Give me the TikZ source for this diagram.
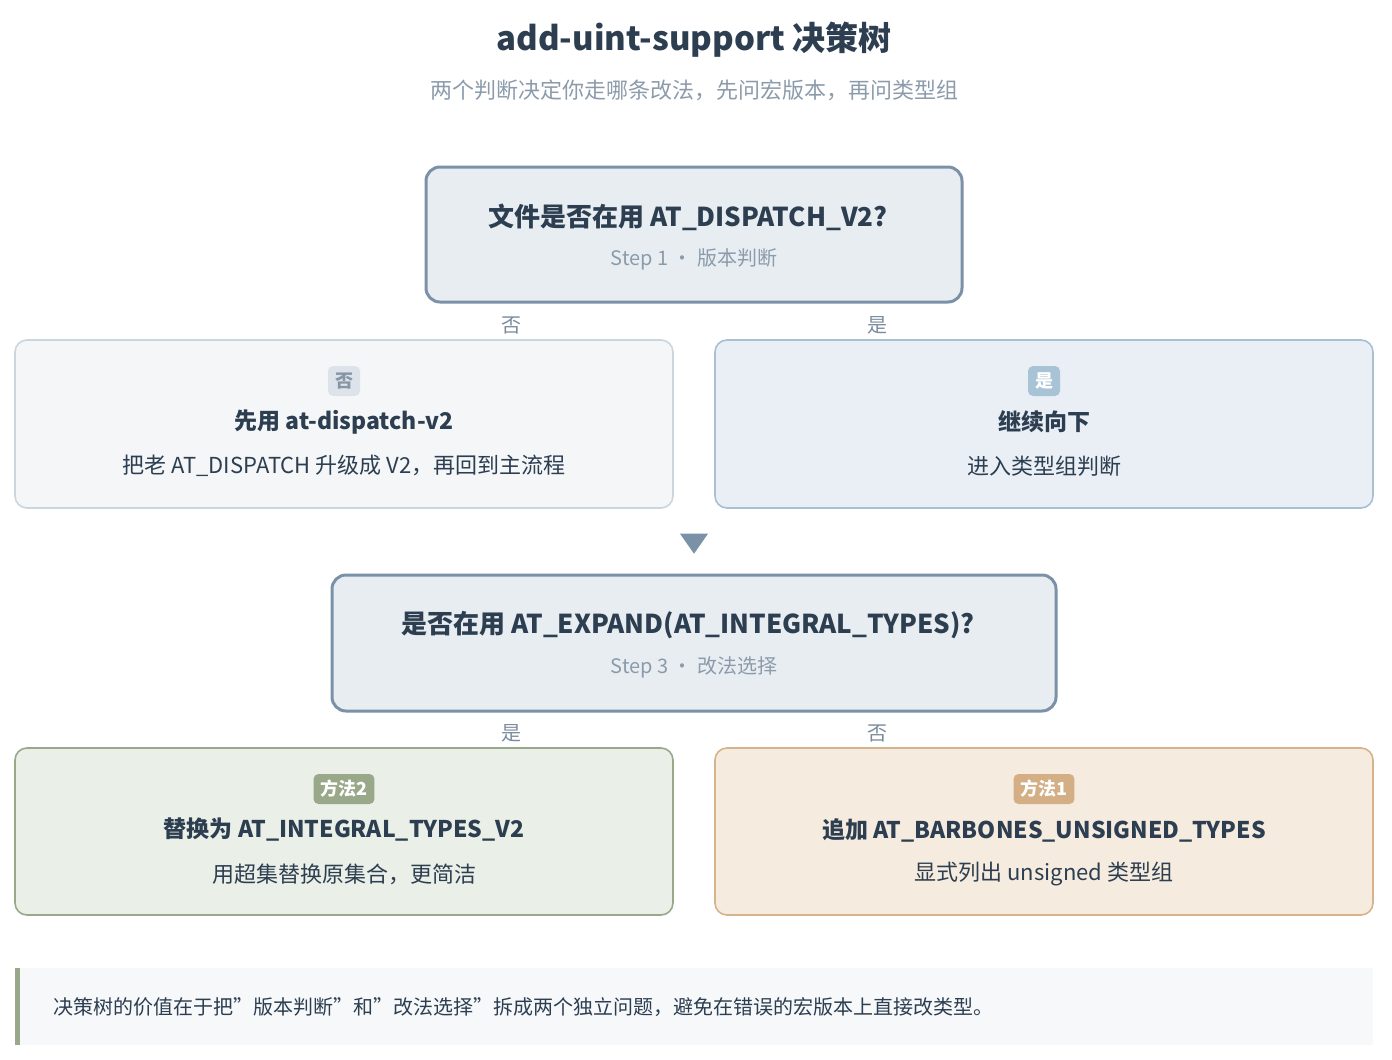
\documentclass[tikz,border=0pt]{standalone}
\usepackage{fontspec}
\setmainfont{Noto Sans CJK SC}
\usetikzlibrary{shapes.geometric}
\definecolor{ink}{HTML}{2C3E50}
\definecolor{muted}{HTML}{8C9BAB}
\definecolor{lbl}{HTML}{7A8B9C}
\definecolor{dec}{HTML}{7A91A8}
\definecolor{decfill}{HTML}{E8EDF2}
\definecolor{nobd}{HTML}{C9D6E0}
\definecolor{nofill}{HTML}{F4F6F8}
\definecolor{nobadge}{HTML}{DDE3EA}
\definecolor{notext}{HTML}{8796A5}
\definecolor{yesbd}{HTML}{A9C0D3}
\definecolor{yesfill}{HTML}{E9EFF5}
\definecolor{yesbadge}{HTML}{A9C3D6}
\definecolor{grbd}{HTML}{9AA88A}
\definecolor{grfill}{HTML}{EAEFE7}
\definecolor{orbd}{HTML}{D7B38D}
\definecolor{orfill}{HTML}{F5EBDF}
\definecolor{orbadge}{HTML}{D4AE85}
\definecolor{notefill}{HTML}{F6F8FA}
\begin{document}
\begin{tikzpicture}[x=1pt,y=-1pt,
  decbox/.style={draw=dec,line width=3pt,fill=decfill,rounded corners=14pt},
  leaf/.style={line width=1.6pt,rounded corners=12pt},
  badge/.style={rounded corners=5pt,minimum height=30pt,inner xsep=7pt,inner ysep=0pt,font=\fontsize{18}{18}\selectfont\bfseries},
  ttl/.style={text=ink,font=\fontsize{23}{23}\selectfont\bfseries},
  qttl/.style={text=ink,font=\fontsize{26}{26}\selectfont\bfseries},
  sub/.style={text=ink,font=\fontsize{22}{22}\selectfont},
  steptxt/.style={text=muted,font=\fontsize{20}{20}\selectfont},
  yn/.style={text=lbl,font=\fontsize{20}{20}\selectfont}]
\useasboundingbox (0,0) rectangle (1392,1060);
\node[text=ink,font=\fontsize{33}{33}\selectfont\bfseries] (title) at (694,40) {add-uint-support 决策树};
\node[text=muted,font=\fontsize{22}{22}\selectfont] (subtitle) at (694,90) {两个判断决定你走哪条改法，先问宏版本，再问类型组};

% decision 1
\draw[decbox] (426,167) rectangle (962,302);
\node[qttl] (q1) at (688,217) {文件是否在用 AT\_DISPATCH\_V2?};
\node[steptxt] (s1) at (694,259) {Step 1 · 版本判断};
\node[yn] (n1) at (511,325) {否};
\node[yn] (y1) at (877,325) {是};

% leaf no
\draw[leaf,draw=nobd,fill=nofill] (15,340) rectangle (673,508);
\node[badge,fill=nobadge,text=notext] (b1) at (344,381) {否};
\node[ttl] (t1) at (344,422) {先用 at-dispatch-v2};
\node[sub] (d1) at (344,466) {把老 AT\_DISPATCH 升级成 V2，再回到主流程};

% leaf yes
\draw[leaf,draw=yesbd,fill=yesfill] (715,340) rectangle (1373,508);
\node[badge,fill=yesbadge,text=white] (b2) at (1044,381) {是};
\node[ttl] (t2) at (1044,422) {继续向下};
\node[sub] (d2) at (1044,466) {进入类型组判断};

% arrow
\node[isosceles triangle,shape border rotate=-90,isosceles triangle apex angle=70,fill=dec,inner sep=0pt,minimum width=26pt,minimum height=20pt] (arr) at (694,541) {};

% decision 2
\draw[decbox] (332,575) rectangle (1056,711);
\node[qttl] (q2) at (688,625) {是否在用 AT\_EXPAND(AT\_INTEGRAL\_TYPES)?};
\node[steptxt] (s2) at (694,667) {Step 3 · 改法选择};
\node[yn] (y2) at (511,733) {是};
\node[yn] (n2) at (877,733) {否};

% method 2
\draw[leaf,draw=grbd,fill=grfill] (15,748) rectangle (673,915);
\node[badge,fill=grbd,text=white] (b3) at (344,789) {方法2};
\node[ttl] (t3) at (344,830) {替换为 AT\_INTEGRAL\_TYPES\_V2};
\node[sub] (d3) at (344,874) {用超集替换原集合，更简洁};

% method 1
\draw[leaf,draw=orbd,fill=orfill] (715,748) rectangle (1373,915);
\node[badge,fill=orbadge,text=white] (b4) at (1044,789) {方法1};
\node[ttl] (t4) at (1044,830) {追加 AT\_BARBONES\_UNSIGNED\_TYPES};
\node[sub] (d4) at (1044,874) {显式列出 unsigned 类型组};

% note
\fill[notefill] (15,968) rectangle (1373,1045);
\fill[grbd] (15,968) rectangle (20,1045);
\node[anchor=west,text=ink,font=\fontsize{20}{20}\selectfont] (note) at (50,1007) {决策树的价值在于把"版本判断"和"改法选择"拆成两个独立问题，避免在错误的宏版本上直接改类型。};
\end{tikzpicture}
\end{document}
